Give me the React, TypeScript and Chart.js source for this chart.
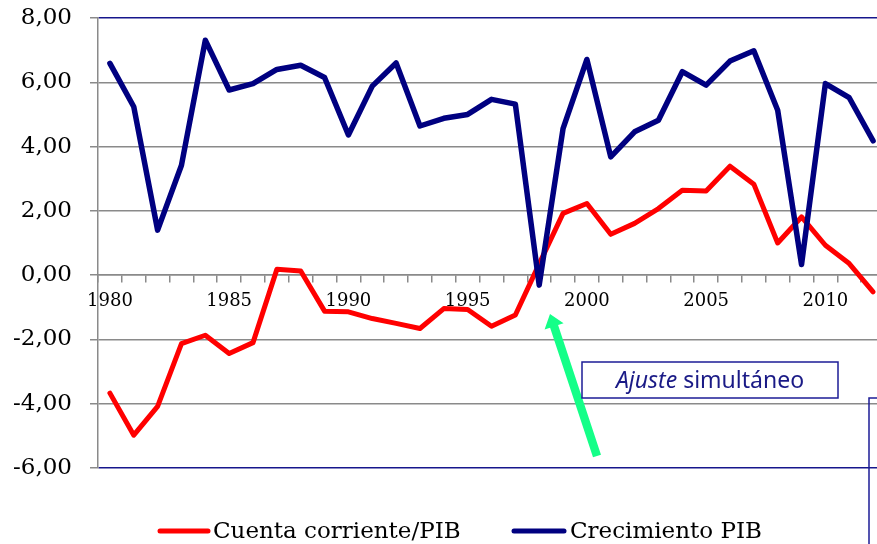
import React, { useEffect, useRef } from 'react';
import { Chart, registerables } from 'chart.js';

Chart.register(...registerables);

const years = [
  '1980', '1981', '1982', '1983', '1984', '1985', '1986', '1987', '1988', '1989',
  '1990', '1991', '1992', '1993', '1994', '1995', '1996', '1997', '1998', '1999',
  '2000', '2001', '2002', '2003', '2004', '2005', '2006', '2007', '2008', '2009',
  '2010', '2011', '2012',
];

const cuentaCorriente = [
  -3.67, -4.98, -4.08, -2.13, -1.87, -2.44, -2.1, 0.18, 0.13, -1.12,
  -1.14, -1.35, -1.5, -1.66, -1.04, -1.07, -1.59, -1.24, 0.35, 1.92,
  2.23, 1.27, 1.61, 2.07, 2.64, 2.62, 3.39, 2.83, 1.0, 1.81,
  0.93, 0.36, -0.52,
];

const crecimientoPIB = [
  6.59, 5.24, 1.4, 3.42, 7.31, 5.76, 5.96, 6.4, 6.53, 6.15,
  4.36, 5.88, 6.6, 4.64, 4.88, 5.0, 5.47, 5.32, -0.31, 4.56,
  6.71, 3.68, 4.46, 4.82, 6.33, 5.91, 6.66, 6.98, 5.13, 0.33,
  5.96, 5.52, 4.18,
];

const seriesNames = ['Cuenta corriente/PIB', 'Crecimiento PIB'];
const seriesColors = ['#ff0000', '#000080'];
const annotationText = ['Ajuste', ' simultáneo'];

const GRAY = '#8a8a8a';
const NAVY_LINE = '#16168c';

const overlayPlugin = {
  id: 'overlay',
  afterDraw(chart: any) {
    const ctx = chart.ctx as CanvasRenderingContext2D;
    ctx.save();

    // Arrow
    const tail = { x: 597, y: 456 };
    const tip = { x: 550, y: 314 };
    const dx = tip.x - tail.x;
    const dy = tip.y - tail.y;
    const len = Math.sqrt(dx * dx + dy * dy);
    const ux = dx / len;
    const uy = dy / len;
    const px = -uy;
    const py = ux;
    const headLen = 13;
    const headW = 10;
    const shaftW = 4.2;
    const bx = tip.x - ux * headLen;
    const by = tip.y - uy * headLen;
    ctx.fillStyle = '#14ff88';
    ctx.beginPath();
    ctx.moveTo(tail.x + px * shaftW, tail.y + py * shaftW);
    ctx.lineTo(bx + px * shaftW, by + py * shaftW);
    ctx.lineTo(bx + px * headW, by + py * headW);
    ctx.lineTo(tip.x, tip.y);
    ctx.lineTo(bx - px * headW, by - py * headW);
    ctx.lineTo(bx - px * shaftW, by - py * shaftW);
    ctx.lineTo(tail.x - px * shaftW, tail.y - py * shaftW);
    ctx.closePath();
    ctx.fill();

    // Text box
    ctx.fillStyle = '#ffffff';
    ctx.fillRect(582, 362, 256, 36);
    ctx.strokeStyle = '#1c1c96';
    ctx.lineWidth = 1.5;
    ctx.strokeRect(582, 362, 256, 36);
    ctx.fillStyle = '#1a1a86';
    ctx.textBaseline = 'alphabetic';
    ctx.textAlign = 'left';
    ctx.font = 'italic 23px "Noto Sans"';
    const w1 = ctx.measureText(annotationText[0]).width;
    ctx.font = '23px "Noto Sans"';
    const w2 = ctx.measureText(annotationText[1]).width;
    const startX = 710 - (w1 + w2) / 2;
    ctx.font = 'italic 23px "Noto Sans"';
    ctx.fillText(annotationText[0], startX, 388);
    ctx.font = '23px "Noto Sans"';
    ctx.fillText(annotationText[1], startX + w1, 388);

    // Right-edge box (cropped)
    ctx.strokeStyle = '#1c1c96';
    ctx.lineWidth = 1.5;
    ctx.strokeRect(869, 398, 60, 200);

    // Legend
    ctx.lineCap = 'round';
    ctx.lineWidth = 5;
    ctx.font = '23px "DejaVu Serif"';
    ctx.textBaseline = 'alphabetic';
    const legendItems = [
      { x1: 160, x2: 208, tx: 213 },
      { x1: 514, x2: 564, tx: 570 },
    ];
    legendItems.forEach((it, i) => {
      ctx.strokeStyle = seriesColors[i];
      ctx.beginPath();
      ctx.moveTo(it.x1, 531);
      ctx.lineTo(it.x2, 531);
      ctx.stroke();
      ctx.fillStyle = '#000000';
      ctx.fillText(seriesNames[i], it.tx, 538);
    });

    ctx.restore();
  },
};

export default function App() {
  const canvasRef = useRef<HTMLCanvasElement | null>(null);

  useEffect(() => {
    const canvas = canvasRef.current;
    if (!canvas) return;
    const chart = new Chart(canvas, {
      type: 'line',
      data: {
        labels: years,
        datasets: [
          {
            label: seriesNames[0],
            data: cuentaCorriente,
            borderColor: seriesColors[0],
            backgroundColor: seriesColors[0],
            borderWidth: 5,
            pointRadius: 0,
            tension: 0,
            borderJoinStyle: 'round',
            borderCapStyle: 'round',
            order: 2,
          },
          {
            label: seriesNames[1],
            data: crecimientoPIB,
            borderColor: seriesColors[1],
            backgroundColor: seriesColors[1],
            borderWidth: 5.5,
            pointRadius: 0,
            tension: 0,
            borderJoinStyle: 'round',
            borderCapStyle: 'round',
            order: 1,
          },
        ],
      },
      options: {
        responsive: false,
        animation: false,
        devicePixelRatio: 1,
        layout: { padding: { left: 0, top: 18, right: 5, bottom: 76 } },
        plugins: {
          legend: { display: false },
          tooltip: { enabled: false },
          title: { display: false },
        },
        scales: {
          x: {
            type: 'category',
            position: { y: 0 } as any,
            offset: true,
            afterFit: (scale: any) => {
              scale.paddingTop = 0;
              scale.paddingBottom = 0;
              scale.paddingLeft = 0;
              scale.paddingRight = 0;
            },
            grid: {
              display: true,
              drawOnChartArea: false,
              drawTicks: true,
              tickLength: 7,
              offset: true,
              color: GRAY,
              lineWidth: 1.5,
            },
            border: { display: true, color: GRAY, width: 1.5 },
            ticks: {
              autoSkip: false,
              maxRotation: 0,
              minRotation: 0,
              padding: 8,
              color: '#000000',
              font: { family: '"DejaVu Serif"', size: 18 },
              callback: (_v: any, i: number) => (Number(years[i]) % 5 === 0 ? years[i] : ''),
            },
          },
          y: {
            min: -6,
            max: 8,
            afterFit: (scale: any) => {
              scale.width = 98;
              scale.paddingTop = 0;
              scale.paddingBottom = 0;
            },
            grid: {
              color: (c: any) =>
                c.tick && (c.tick.value === 8 || c.tick.value === -6) ? NAVY_LINE : GRAY,
              tickColor: GRAY,
              lineWidth: 1.5,
              tickLength: 8,
            },
            border: { display: true, color: GRAY, width: 1.5 },
            ticks: {
              stepSize: 2,
              padding: 18,
              color: '#000000',
              font: { family: '"DejaVu Serif"', size: 23 },
              callback: (v: any) => Number(v).toFixed(2).replace('.', ','),
            },
          },
        },
      },
      plugins: [overlayPlugin],
    });
    return () => chart.destroy();
  }, []);

  return (
    <div
      style={{
        position: 'fixed',
        left: 0,
        top: 0,
        width: 877,
        height: 544,
        overflow: 'hidden',
        background: '#ffffff',
      }}
    >
      <canvas ref={canvasRef} width={890} height={544} style={{ display: 'block', width: 890, height: 544 }} />
    </div>
  );
}
